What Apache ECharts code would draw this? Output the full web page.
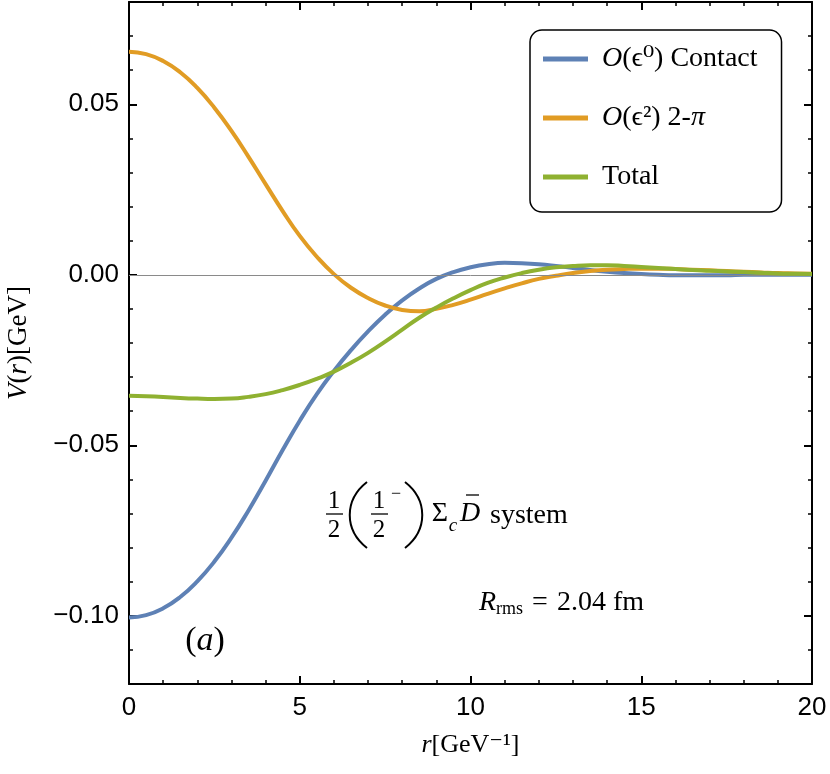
<!DOCTYPE html>
<html><head><meta charset="utf-8">
<script src="https://cdn.jsdelivr.net/npm/echarts@6/dist/echarts.min.js"></script>
<style>html,body{margin:0;padding:0;background:#fff}#c{width:830px;height:774px}</style>
</head><body><div id="c"></div>
<script>
// ---- data ----
const rValues = [0,0.5,1,1.5,2,2.5,3,3.5,4,4.5,5,5.5,6,6.5,7,7.5,8,8.5,9,9.5,10,10.5,11,11.5,12,12.5,13,13.5,14,14.5,15,15.5,16,16.5,17,17.5,18,18.5,19,19.5,20];
const contact = [-0.1005,-0.0998,-0.0978,-0.0945,-0.0899,-0.0841,-0.0771,-0.0691,-0.0604,-0.0514,-0.0428,-0.0350,-0.0282,-0.0221,-0.0166,-0.0117,-0.0075,-0.0040,-0.0012,0.0008,0.0022,0.0031,0.0035,0.0034,0.0031,0.0026,0.0020,0.0014,0.0009,0.0005,0.0002,0.0000,-0.0001,-0.0001,-0.0001,-0.0001,0.0000,0.0000,0.0000,0.0000,0.0000];
const twoPi = [0.0654,0.0647,0.0627,0.0594,0.0548,0.0490,0.0422,0.0346,0.0266,0.0187,0.0114,0.0053,0.0002,-0.0038,-0.0068,-0.0090,-0.0103,-0.0107,-0.0100,-0.0088,-0.0073,-0.0056,-0.0040,-0.0025,-0.0012,-0.0003,0.0005,0.0011,0.0015,0.0017,0.0018,0.0018,0.0017,0.0015,0.0013,0.0011,0.0009,0.0007,0.0005,0.0004,0.0003];
const total = [-0.0355,-0.0356,-0.0358,-0.0361,-0.0363,-0.0364,-0.0363,-0.0358,-0.0350,-0.0338,-0.0323,-0.0305,-0.0284,-0.0258,-0.0229,-0.0196,-0.0161,-0.0126,-0.0096,-0.0069,-0.0045,-0.0024,-0.0008,0.0005,0.0015,0.0022,0.0026,0.0028,0.0028,0.0026,0.0023,0.0020,0.0017,0.0014,0.0012,0.0010,0.0008,0.0006,0.0004,0.0003,0.0002];
const seriesNames = ['Contact','2pi','Total'];
const legendLabels = ['{i|O}(ϵ⁰) Contact','{i|O}(ϵ²) 2-{i|π}','Total'];
const yMajorTicks = [-0.10,-0.05,0.00,0.05];
const xMajorStep = 5;

const colors = ['#5e81b5','#e19c24','#8fb131'];
const serif = '"Liberation Serif","DejaVu Serif",serif';
const sans = '"Liberation Sans","DejaVu Sans",sans-serif';

function pairs(ys){ return rValues.map((r,i)=>[r, ys[i]]); }
function fmtY(v){
  const a = Math.abs(v).toFixed(2);
  return (v < -1e-9 ? '\u2212' : '') + a;
}
const isMajorY = v => yMajorTicks.some(t => Math.abs(t - v) < 1e-6);

const axisLineStyle = {show:true, onZero:false, lineStyle:{color:'#000', width:2}};
const noLine = {show:false, onZero:false};
function xAxisDef(pos, major, withLabels){
  return {
    type:'value', position:pos, min:0, max:20, interval: major ? xMajorStep : 1,
    axisLine: major ? noLine : axisLineStyle,
    axisTick:{show:true, inside:true, length: major ? 8 : 4, lineStyle:{color:'#000', width: major?2:1.5}},
    axisLabel: withLabels ? {show:true, color:'#000', fontFamily:sans, fontSize:26, margin:11,
       formatter: v => (Math.abs(v % xMajorStep) < 1e-9 ? String(v) : '')} : {show:false},
    splitLine:{show:false},
    name: withLabels ? '{i|r}[GeV⁻¹]' : '',
    nameLocation:'middle', nameGap: 48,
    nameTextStyle:{color:'#000', fontFamily:serif, fontSize:26, rich:{i:{fontStyle:'italic', fontFamily:serif, fontSize:26}}}
  };
}
function yAxisDef(pos, major, withLabels){
  const d = {
    type:'value', position:pos, min:-0.12, max:0.08, interval:0.01,
    axisLine: major ? noLine : axisLineStyle,
    axisTick:{show:true, inside:true, length: major ? 8 : 4, lineStyle:{color:'#000', width: major?2:1.5}},
    axisLabel: withLabels ? {show:true, color:'#000', fontFamily:sans, fontSize:26, margin:10,
       formatter: v => (isMajorY(v) ? fmtY(v) : '')} : {show:false},
    splitLine:{show:false},
    name: withLabels ? '{i|V}({i|r})[GeV]' : '',
    nameLocation:'middle', nameGap: 97, nameRotate: 90,
    nameTextStyle:{color:'#000', fontFamily:serif, fontSize:27, rich:{i:{fontStyle:'italic', fontFamily:serif, fontSize:27}}}
  };
  if (major) d.axisTick.customValues = yMajorTicks;
  return d;
}

const chart = echarts.init(document.getElementById('c'), null, {renderer:'canvas'});
const lineSeries = [contact, twoPi, total].map((ys,i)=>({
  name: seriesNames[i], type:'line', data: pairs(ys), showSymbol:false, symbol:'none',
  smooth:0.5, lineStyle:{color:colors[i], width:4}, itemStyle:{color:colors[i]}, z: 3+i,
  xAxisIndex:0, yAxisIndex:0
}));
chart.setOption({
  animation:false,
  backgroundColor:'#fff',
  grid:{left:129, right:18, top:2, bottom:90, outerBoundsMode:'none'},
  xAxis:[xAxisDef('bottom',false,true), xAxisDef('bottom',true,false), xAxisDef('top',false,false), xAxisDef('top',true,false)],
  yAxis:[yAxisDef('left',false,true), yAxisDef('left',true,false), yAxisDef('right',false,false), yAxisDef('right',true,false)],
  legend:{
    data: seriesNames, orient:'vertical', left:530, top:30, selectedMode:false,
    icon:'rect', itemWidth:45, itemHeight:5, itemGap:29,
    padding:[14,24,20,13],
    backgroundColor:'#fff', borderColor:'#000', borderWidth:1.5, borderRadius:12,
    formatter: name => legendLabels[seriesNames.indexOf(name)],
    textStyle:{color:'#000', fontFamily:serif, fontSize:28, lineHeight:30, padding:[0,0,0,9],
      rich:{i:{fontStyle:'italic', fontFamily:serif, fontSize:28}}}
  },
  series:[
    {type:'line', data:[], silent:true, z:1, markLine:{silent:true, symbol:'none', label:{show:false},
      lineStyle:{color:'#8a8a8a', width:1, type:'solid'}, data:[{yAxis:0}]}},
    ...lineSeries
  ],
  graphic:[
    {type:'text', x:205, y:641, style:{text:'({i|a})', align:'center', verticalAlign:'middle', fill:'#000', font:'34px '+serif,
       rich:{i:{fontStyle:'italic', fontSize:34, fontFamily:serif}}}},
    {type:'text', x:479, y:603, style:{text:'{i|R}{s|rms}{e|=}2.04 fm', align:'left', verticalAlign:'middle', fill:'#000', font:'28px '+serif,
       rich:{i:{fontStyle:'italic', fontSize:28, fontFamily:serif}, s:{fontSize:18, fontFamily:serif, padding:[12,0,0,0]},
             e:{fontSize:28, fontFamily:serif, padding:[0,9,0,9]}}}},
    // fraction 1/2
    {type:'text', x:334, y:501, style:{text:'1', align:'center', verticalAlign:'middle', fill:'#000', font:'25px '+serif}},
    {type:'text', x:334, y:530, style:{text:'2', align:'center', verticalAlign:'middle', fill:'#000', font:'25px '+serif}},
    {type:'line', shape:{x1:326,y1:514,x2:343,y2:514}, style:{stroke:'#000', lineWidth:1.3}},
    // big parentheses
    {type:'bezierCurve', shape:{x1:367,y1:482,cpx1:344,cpy1:500,cpx2:344,cpy2:530,x2:367,y2:548}, style:{stroke:'#000', lineWidth:2, fill:null}},
    {type:'bezierCurve', shape:{x1:405,y1:482,cpx1:428,cpy1:500,cpx2:428,cpy2:530,x2:405,y2:548}, style:{stroke:'#000', lineWidth:2, fill:null}},
    // inner 1^-/2
    {type:'text', x:379, y:501, style:{text:'1', align:'center', verticalAlign:'middle', fill:'#000', font:'25px '+serif}},
    {type:'text', x:379, y:530, style:{text:'2', align:'center', verticalAlign:'middle', fill:'#000', font:'25px '+serif}},
    {type:'line', shape:{x1:371,y1:514,x2:388,y2:514}, style:{stroke:'#000', lineWidth:1.3}},
    {type:'text', x:396, y:494, style:{text:'\u2212', align:'center', verticalAlign:'middle', fill:'#000', font:'18px '+serif}},
    // Sigma_c Dbar system
    {type:'text', x:440, y:514, style:{text:'Σ', align:'center', verticalAlign:'middle', fill:'#000', font:'28px '+serif}},
    {type:'text', x:453, y:526, style:{text:'c', align:'center', verticalAlign:'middle', fill:'#000', font:'italic 19px '+serif}},
    {type:'text', x:470, y:514, style:{text:'D', align:'center', verticalAlign:'middle', fill:'#000', font:'italic 28px '+serif}},
    {type:'line', shape:{x1:466,y1:495,x2:479,y2:495}, style:{stroke:'#000', lineWidth:1.3}},
    {type:'text', x:490, y:516, style:{text:'system', align:'left', verticalAlign:'middle', fill:'#000', font:'28px '+serif}}
  ]
});
</script></body></html>
